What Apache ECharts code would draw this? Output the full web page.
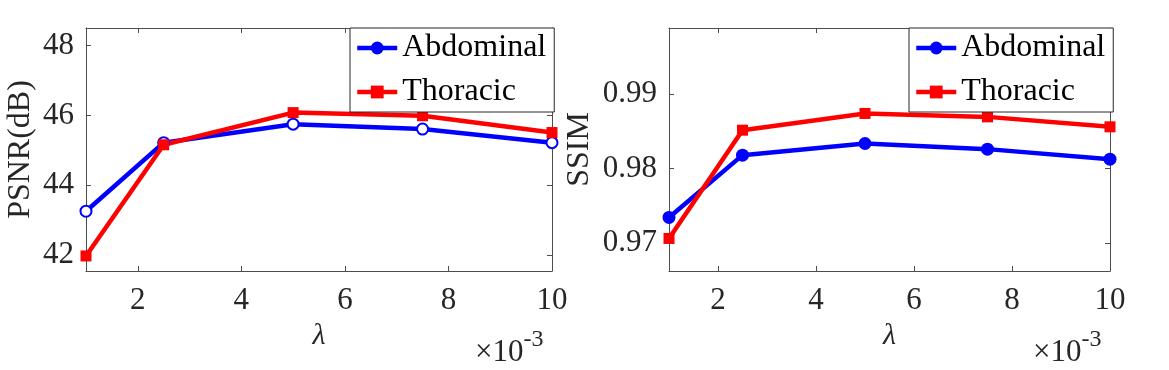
<!DOCTYPE html>
<html>
<head>
<meta charset="utf-8">
<script src="https://cdn.jsdelivr.net/npm/echarts@6/dist/echarts.min.js"></script>
<style>
  html, body { margin: 0; padding: 0; background: #fff; }
  #chart { width: 1169px; height: 370px; }
</style>
</head>
<body>
<div id="chart"></div>
<script>
// lambda values (x 10^-3)
const lambdas = [1, 2.5, 5, 7.5, 10]
const psnrAbdominal = [43.26, 45.22, 45.75, 45.61, 45.22]
const psnrThoracic = [41.98, 45.16, 46.08, 45.99, 45.51]
const ssimAbdominal = [0.97341, 0.98179, 0.98336, 0.9826, 0.98125]
const ssimThoracic = [0.97058, 0.98515, 0.9874, 0.98694, 0.9856]

const xTicks = [2, 4, 6, 8, 10]
const psnrTicks = [42, 44, 46, 48]
const ssimTicks = [0.97, 0.98, 0.99]

const FONT = '"Liberation Serif", "Times New Roman", serif'
const AXIS_COLOR = '#4d4d4d'
const LABEL_COLOR = '#262626'

const pairs = (ys) => lambdas.map((x, i) => [x, ys[i]])

function xAxisFor(gridIndex, top) {
  return {
    type: 'value',
    gridIndex: gridIndex,
    position: top ? 'top' : 'bottom',
    min: 1,
    max: 10,
    name: top ? '' : 'λ',
    nameLocation: 'middle',
    nameGap: 48,
    nameTextStyle: { fontFamily: FONT, fontStyle: 'italic', fontSize: 30, color: LABEL_COLOR },
    axisLine: { show: true, onZero: false, lineStyle: { color: AXIS_COLOR, width: 1 } },
    axisTick: { show: true, inside: true, length: 5, customValues: xTicks, lineStyle: { color: AXIS_COLOR } },
    axisLabel: {
      show: !top,
      customValues: xTicks,
      margin: 14,
      fontFamily: FONT,
      fontSize: 31,
      color: LABEL_COLOR
    },
    splitLine: { show: false }
  }
}

function yAxisFor(gridIndex, right, range, ticks, name, gap, digits) {
  return {
    type: 'value',
    gridIndex: gridIndex,
    position: right ? 'right' : 'left',
    min: range[0],
    max: range[1],
    name: right ? '' : name,
    nameLocation: 'middle',
    nameRotate: 90,
    nameGap: gap,
    nameTextStyle: { fontFamily: FONT, fontSize: 32, color: LABEL_COLOR },
    axisLine: { show: true, onZero: false, lineStyle: { color: AXIS_COLOR, width: 1 } },
    axisTick: { show: true, inside: true, length: 5, customValues: ticks, lineStyle: { color: AXIS_COLOR } },
    axisLabel: {
      show: !right,
      customValues: ticks,
      margin: 12,
      fontFamily: FONT,
      fontSize: 31,
      color: LABEL_COLOR,
      formatter: v => v.toFixed(digits)
    },
    splitLine: { show: false }
  }
}

function lineSeries(name, data, xi, yi, color, symbol, size) {
  return {
    name: name,
    type: 'line',
    xAxisIndex: xi,
    yAxisIndex: yi,
    data: data,
    symbol: symbol,
    symbolSize: size,
    showSymbol: true,
    lineStyle: { color: color, width: 4.5 },
    itemStyle: { color: color, borderColor: color, borderWidth: symbol === 'emptyCircle' ? 3.5 : 0 },
    emphasis: { disabled: true },
    animation: false
  }
}

function legendAt(left) {
  return {
    data: ['Abdominal', 'Thoracic'],
    orient: 'vertical',
    left: left,
    top: 28,
    width: 200,
    padding: [4, 8, 4, 5],
    itemGap: 12,
    itemWidth: 40,
    itemHeight: 16,
    selectedMode: false,
    borderColor: '#262626',
    borderWidth: 1,
    backgroundColor: '#fff',
    lineStyle: { width: 4.5 },
    textStyle: { fontFamily: FONT, fontSize: 32, color: '#000', lineHeight: 26 }
  }
}

function timesTen(left) {
  return {
    type: 'text',
    left: left,
    top: 328,
    style: {
      text: '{m|×10}{s|-3}',
      rich: {
        m: { fontFamily: FONT, fontSize: 31, fill: LABEL_COLOR, verticalAlign: 'bottom' },
        s: { fontFamily: FONT, fontSize: 24, fill: LABEL_COLOR, verticalAlign: 'top', padding: [0, 0, 16, 0] }
      }
    }
  }
}

const chart = echarts.init(document.getElementById('chart'))

chart.setOption({
  backgroundColor: '#fff',
  animation: false,
  grid: [
    { left: 86, top: 28, width: 466, height: 243 },
    { left: 669, top: 28, width: 441, height: 243 }
  ],
  xAxis: [xAxisFor(0, false), xAxisFor(0, true), xAxisFor(1, false), xAxisFor(1, true)],
  yAxis: [
    yAxisFor(0, false, [41.55, 48.5], psnrTicks, 'PSNR(dB)', 49, 0),
    yAxisFor(0, true, [41.55, 48.5], psnrTicks, '', 0, 0),
    yAxisFor(1, false, [0.9662, 0.9989], ssimTicks, 'SSIM', 73, 2),
    yAxisFor(1, true, [0.9662, 0.9989], ssimTicks, '', 0, 2)
  ],
  legend: [legendAt(350), legendAt(909)],
  series: [
    // right panel first so legends take the filled circle icon
    lineSeries('Abdominal', pairs(ssimAbdominal), 2, 2, '#0000ff', 'circle', 13),
    lineSeries('Thoracic', pairs(ssimThoracic), 2, 2, '#ff0000', 'rect', 11),
    lineSeries('Abdominal', pairs(psnrAbdominal), 0, 0, '#0000ff', 'emptyCircle', 11),
    lineSeries('Thoracic', pairs(psnrThoracic), 0, 0, '#ff0000', 'rect', 11)
  ],
  graphic: [timesTen(475), timesTen(1033)]
})
</script>
</body>
</html>
